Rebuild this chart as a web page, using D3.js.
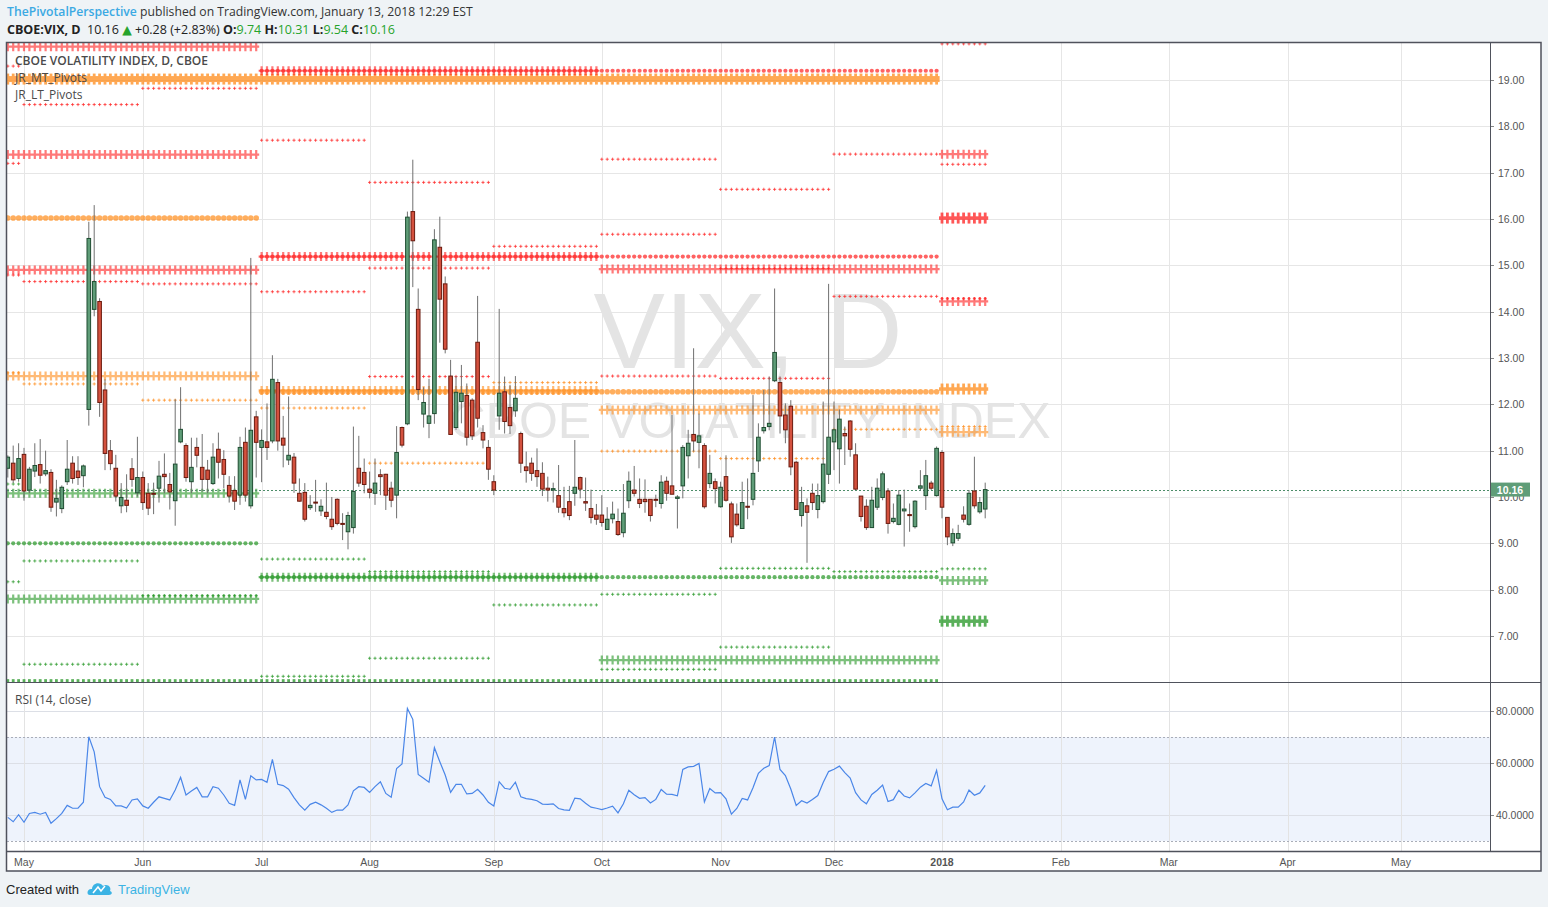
<!DOCTYPE html>
<html>
<head>
<meta charset="utf-8">
<script src="https://cdn.jsdelivr.net/npm/d3@7"></script>
<style>
  body { margin: 0; background: #eff3f6; }
  svg { display: block; }
</style>
</head>
<body>
<svg id="chart" width="1548" height="907"></svg>
<script>
// Bougies journalières VIX [open, high, low, close], une liste par mois
const ohlcApr = [[10.62,10.90,10.42,10.86],[10.73,11.11,10.30,10.37],[10.40,11.16,10.33,10.83]];
const ohlcMay = [[10.92,11.06,9.92,10.13],[10.15,10.65,10.08,10.60],[10.56,11.16,10.43,10.68],[10.70,11.25,10.29,10.47],
  [10.50,11.00,10.45,10.57],[10.53,10.60,9.68,9.78],[9.89,10.37,9.58,9.97],[9.75,10.25,9.65,10.21],[10.33,11.23,10.26,10.60],
  [10.73,10.88,10.29,10.40],[10.56,10.88,10.26,10.42],[10.46,10.70,10.21,10.67],[11.89,15.94,11.54,15.58],[14.05,16.30,13.90,14.65],
  [14.22,14.29,11.73,12.04],[12.31,12.54,10.58,10.94],[11.00,11.23,10.58,10.72],[10.62,10.91,9.90,10.02],[9.81,10.30,9.65,9.99],
  [9.93,10.49,9.67,9.82],[10.61,10.84,10.22,10.38],[10.09,11.30,10.01,10.42]];
const ohlcJun = [[10.42,10.55,9.72,9.88],[10.08,10.30,9.61,9.76],[10.08,10.31,9.63,10.07],[10.19,10.78,9.88,10.45],
  [10.49,10.94,10.08,10.44],[10.27,10.52,9.73,10.11],[9.92,12.11,9.38,10.71],[11.19,12.37,11.16,11.46],[11.11,11.16,10.33,10.42],
  [10.33,11.28,10.08,10.64],[11.07,11.28,10.64,10.90],[10.64,11.36,10.12,10.38],[10.58,10.80,10.08,10.38],[10.29,11.16,10.26,10.86],
  [11.03,11.39,10.40,10.75],[10.81,11.01,10.19,10.49],[10.25,10.45,9.88,10.02],[10.14,10.45,9.72,9.91],[10.04,11.30,9.83,11.07],
  [11.18,11.50,9.90,10.04],[9.81,15.16,9.75,11.44],[11.73,11.86,10.42,11.18]];
const ohlcJul = [[11.07,11.46,10.32,11.22],[11.19,12.02,10.80,11.07],[11.21,13.06,11.16,12.54],[12.47,12.55,11.00,11.21],
  [11.27,11.75,10.64,11.12],[10.80,12.17,10.69,10.90],[10.86,10.95,10.09,10.30],[10.08,10.40,9.90,9.91],[10.10,10.30,9.47,9.52],
  [9.77,10.04,9.72,9.82],[9.89,10.37,9.68,9.88],[9.70,9.95,9.59,9.80],[9.67,10.31,9.52,9.58],[9.52,10.00,9.29,9.36],
  [9.95,9.97,9.39,9.43],[9.43,9.65,9.07,9.42],[9.25,9.68,8.87,9.60],[9.34,11.52,9.21,10.12],[10.62,11.32,10.22,10.30],
  [10.53,10.83,10.08,10.27]];
const ohlcAug = [[10.17,10.55,9.97,10.10],[10.08,10.83,9.83,10.30],[10.48,10.60,10.04,10.44],[10.49,10.50,9.72,10.04],
  [10.19,10.33,9.78,9.93],[10.04,11.53,9.54,10.96],[11.50,11.52,11.07,11.12],[11.58,16.16,11.55,16.04],[16.16,17.28,14.53,15.53],
  [14.05,14.50,12.09,12.32],[11.79,12.37,11.50,12.04],[11.59,12.55,11.27,11.75],[11.80,15.78,11.58,15.55],[15.39,16.05,13.33,14.27],
  [14.60,14.76,13.10,13.19],[12.61,12.96,11.34,11.35],[11.50,12.61,11.45,12.26],[12.06,12.85,11.59,12.24],[12.19,12.45,11.11,11.29],
  [12.09,12.13,11.23,11.32],[13.34,14.34,11.50,11.70],[11.39,11.55,11.05,11.23],[11.07,11.23,10.37,10.60]];
const ohlcSep = [[10.33,10.47,10.04,10.15],[11.75,14.06,11.45,12.24],[12.27,12.60,11.37,11.63],[11.93,12.42,11.36,11.54],
  [11.86,12.61,11.73,12.13],[11.37,11.41,10.52,10.73],[10.65,10.98,10.31,10.57],[10.73,10.85,10.35,10.51],[10.57,11.05,10.22,10.44],
  [10.51,10.75,10.02,10.17],[10.19,10.44,9.90,10.15],[10.15,10.31,9.88,10.18],[10.03,10.69,9.66,9.78],[9.75,10.22,9.56,9.66],
  [9.90,10.24,9.50,9.60],[10.08,11.23,9.81,10.21],[10.42,10.44,9.97,10.17],[9.90,10.42,9.70,9.87],[9.75,10.16,9.43,9.56],
  [9.61,9.85,9.40,9.52]];
const ohlcOct = [[9.61,10.04,9.36,9.45],[9.30,9.78,9.30,9.52],[9.53,9.90,9.43,9.63],[9.47,9.75,9.16,9.19],[9.23,10.28,9.13,9.65],
  [9.92,10.55,9.76,10.34],[10.15,10.67,10.01,10.08],[9.95,10.40,9.76,9.86],[9.95,10.38,9.66,9.90],[9.95,9.95,9.47,9.60],
  [9.95,10.05,9.78,9.93],[9.86,10.47,9.75,10.32],[10.34,10.44,9.92,10.08],[10.24,11.77,10.06,10.06],[9.97,10.04,9.32,10.00],
  [10.24,11.12,9.97,11.07],[10.89,11.45,10.40,11.16],[11.35,13.21,10.98,11.21],[11.18,11.80,10.62,11.32],[11.11,11.16,9.75,9.79],
  [10.29,10.91,10.19,10.51],[10.33,10.40,9.86,10.18]];
const ohlcNov = [[9.79,10.33,9.77,10.21],[10.44,10.90,9.90,9.93],[9.85,9.90,9.01,9.14],[9.63,9.86,9.36,9.40],[9.32,10.33,9.32,9.88],
  [9.80,10.40,9.52,9.78],[9.95,12.20,9.82,10.51],[10.78,11.59,10.54,11.29],[11.43,12.31,11.37,11.50],[11.52,12.60,11.44,11.59],
  [12.51,14.50,12.48,13.12],[12.47,12.60,11.37,11.75],[11.77,12.02,11.16,11.45],[11.96,12.09,10.47,10.65],[10.75,10.78,9.72,9.73],
  [9.60,10.22,9.36,9.88],[9.81,9.97,8.58,9.67],[10.08,10.29,9.72,9.88],[9.73,10.29,9.54,10.03],[9.90,12.06,9.86,10.71],
  [10.49,14.60,10.28,11.29]];
const ohlcDec = [[11.19,12.06,10.58,11.45],[11.04,11.89,10.29,11.68],[11.37,11.52,10.69,11.32],[11.64,11.66,10.87,11.03],
  [10.91,11.16,10.15,10.17],[10.02,10.02,9.47,9.58],[9.80,9.95,9.29,9.34],[9.34,10.22,9.34,9.93],[9.78,10.40,9.72,10.19],
  [9.99,10.55,9.93,10.50],[10.13,10.19,9.21,9.43],[9.47,9.86,9.43,9.54],[9.41,10.15,9.39,10.04],[9.70,10.16,8.93,9.74],
  [9.62,9.86,9.25,9.61],[9.36,9.93,9.32,9.91],[10.19,10.58,10.14,10.24],[10.03,10.80,9.72,10.46],[10.30,10.35,10.15,10.19],
  [10.03,11.09,10.01,11.05]];
const ohlcJan = [[10.96,11.01,9.54,9.78],[9.56,9.56,8.96,9.14],[9.01,9.32,8.94,9.21],[9.11,9.40,9.05,9.21],[9.61,9.80,9.45,9.52],
  [9.41,10.15,9.38,10.08],[10.13,10.87,9.75,9.81],[9.68,10.00,9.64,9.88],[9.74,10.31,9.54,10.16]];

// RSI (14, close), une valeur par bougie
const rsiApr = [39.1,37.4,40.1];
const rsiMay = [37.2,40.6,41.0,40.3,41.0,36.8,38.6,40.6,43.7,42.6,42.6,44.9,70.1,64.3,50.9,46.8,46.0,43.5,43.5,42.7,45.8,46.2];
const rsiJun = [43.5,42.6,44.9,47.0,46.4,45.8,49.6,54.5,47.7,49.2,50.6,47.0,47.0,50.9,50.3,47.7,44.5,43.7,53.5,46.0,55.1,53.5];
const rsiJul = [53.7,52.6,61.4,51.8,51.3,49.9,46.7,43.9,41.9,44.1,44.9,43.9,42.6,41.0,41.9,41.9,43.9,49.3,50.9,50.6];
const rsiAug = [48.7,50.9,52.8,48.3,46.8,57.9,59.6,81.0,76.8,55.6,54.1,52.6,65.9,60.5,55.4,48.7,51.8,51.8,48.1,48.3,49.9,47.7,44.9];
const rsiSep = [43.5,52.8,50.3,49.9,52.6,47.0,46.3,46.0,45.5,44.2,44.1,44.3,42.5,42.0,41.8,46.5,46.2,44.5,43.0,42.6];
const rsiOct = [42.1,42.7,43.4,40.8,44.3,49.5,47.8,46.4,46.7,44.6,46.0,49.8,48.0,47.9,47.4,57.5,58.5,58.7,59.8,45.0,50.2,48.5];
const rsiNov = [48.6,46.2,40.3,42.5,46.4,45.8,50.5,56.0,58.0,59.0,70.0,57.5,55.2,50.0,43.7,45.5,44.6,46.0,47.5,52.5,56.7];
const rsiDec = [57.6,58.8,56.3,54.2,48.6,45.8,44.3,47.9,49.5,51.5,45.2,45.9,49.5,47.3,46.6,48.5,50.7,52.1,51.2,57.2];
const rsiJan = [46.2,42.0,43.0,43.0,45.0,49.6,47.6,48.5,51.4];

// JR_MT_Pivots (mensuels)
const mtPeriods = ['2017-04','2017-05','2017-06','2017-07','2017-08','2017-09','2017-10','2017-11','2017-12','2018-01'];
const mtResistance = [[19.30,17.20,14.79],[18.47,14.65],[18.82,14.60],[17.70,14.43],[16.79,14.94,12.60],[15.41],
  [17.29,15.67,12.61],[16.64,14.93,12.56],[17.40,14.33],[19.78,17.18,14.28]];
const mtPivot = [12.68,12.44,12.09,11.92,10.73,12.47,10.99,10.83,11.46,11.52];
const mtSupport = [[10.28,8.17],[8.62,6.39],[7.87],[8.66,6.13],[8.39,6.52],[7.67],[7.90,6.28],[8.46,6.76],[8.39],[8.45]];

// JR_LT_Pivots (trimestriels, semestriels, annuels)
const ltQuarters = ['2017-Q2','2017-Q3','2017-Q4','2018-Q1'];
const ltQuarterR = [[19.72,17.39,14.90],[19.20,15.19],[14.92],[17.40,14.22]];
const ltQuarterP = [12.61,12.30,11.88,11.40];
const ltQuarterS = [[10.08,7.80],[8.27],[6.48],[8.20]];
const ltHalves = ['2017-H1','2017-H2'];
const ltHalfR = [[],[19.20,15.19]];
const ltHalfP = [16.02,12.27];
const ltHalfS = [[9.00],[8.27]];
const ltYears = ['2017','2018'];
const ltYearR = [[],[16.02]];
const ltYearP = [19.02,12.33];
const ltYearS = [[5.95],[7.32]];

const priceTicks = [7,8,9,10,11,12,13,14,15,16,17,18,19];
const rsiTicks = [40,60,80];
const lastPrice = 10.16;

// Calendrier de bourse (jours fériés US)
const holidays = ['2017-05-29','2017-07-04','2017-09-04','2017-11-23','2017-12-25','2018-01-01'];

const fmtDay = d3.timeFormat('%Y-%m-%d');
const dates = d3.timeDay.range(new Date(2017, 3, 26), new Date(2018, 5, 1))
  .filter(d => d.getDay() !== 0 && d.getDay() !== 6 && !holidays.includes(fmtDay(d)));

const candles = [].concat(ohlcApr, ohlcMay, ohlcJun, ohlcJul, ohlcAug, ohlcSep, ohlcOct, ohlcNov, ohlcDec, ohlcJan);
const rsi = [].concat(rsiApr, rsiMay, rsiJun, rsiJul, rsiAug, rsiSep, rsiOct, rsiNov, rsiDec, rsiJan);
const bars = candles.map((d, k) => ({ k, date: dates[k], o: d[0], h: d[1], l: d[2], c: d[3], rsi: rsi[k] }));

// Géométrie
const paneL = 7, paneR = 1490, mainT = 43, mainB = 682, rsiB = 851, axisR = 1541, frameB = 871;
const x = d3.scaleLinear().domain([0, 258]).range([7.8, 7.8 + 258 * 5.4]);
const y = d3.scaleLinear().domain([7, 19]).range([636, 80]);
const yr = d3.scaleLinear().domain([40, 80]).range([815, 711]);

const svg = d3.select('#chart');
const axisFont = '"Liberation Sans", Arial, sans-serif';
const uiFont = '"Open Sans", "DejaVu Sans", sans-serif';

svg.append('rect').attr('width', 1548).attr('height', 907).attr('fill', '#eff3f6');
svg.append('rect').attr('x', 6.5).attr('y', 42.5).attr('width', axisR - 6.5).attr('height', frameB - 42.5).attr('fill', '#fff');

const defs = svg.append('defs');
defs.append('clipPath').attr('id', 'mainClip').append('rect')
  .attr('x', paneL).attr('y', mainT).attr('width', paneR - paneL).attr('height', mainB - mainT);
defs.append('clipPath').attr('id', 'rsiClip').append('rect')
  .attr('x', paneL).attr('y', mainB).attr('width', paneR - paneL).attr('height', rsiB - mainB);

// Repères des mois
const monthKey = d3.timeFormat('%Y-%m');
const monthTicks = [];
dates.forEach((d, k) => {
  if (k > 0 && monthKey(d) !== monthKey(dates[k - 1])) monthTicks.push({ k, d });
});

// Grille
const grid = svg.append('g').attr('stroke', '#e6e6e6').attr('stroke-width', 1);
priceTicks.forEach(v => grid.append('line').attr('x1', paneL).attr('x2', paneR)
  .attr('y1', Math.round(y(v)) + 0.5).attr('y2', Math.round(y(v)) + 0.5));
monthTicks.forEach(t => grid.append('line').attr('x1', Math.round(x(t.k)) + 0.5).attr('x2', Math.round(x(t.k)) + 0.5)
  .attr('y1', mainT).attr('y2', mainB));

// Filigrane
const wm = svg.append('g').attr('fill', '#e4e4e4').attr('font-family', axisFont).attr('text-anchor', 'middle');
wm.append('text').attr('x', 748).attr('y', 368).attr('font-size', 107).text('VIX, D');
wm.append('text').attr('x', 750).attr('y', 438).attr('font-size', 50).text('CBOE VOLATILITY INDEX');

// Pivots
const pivotColor = { R: '#ff2020', P: '#ff8c1a', S: '#249624' };
const pivotLayer = svg.append('g').attr('clip-path', 'url(#mainClip)');

function periodBars(keyFn, p) {
  return bars.filter(b => keyFn(b.date) === p).map(b => b.k);
}
function levelsOf(r, p, s) {
  return [...r.map(v => ({ v, t: 'R' })), { v: p, t: 'P' }, ...s.map(v => ({ v, t: 'S' }))];
}

function drawMonth(ks, l) {
  const yy = y(l.v);
  pivotLayer.append('path')
    .attr('d', ks.map(k => `M${x(k) - 1.6},${yy}h3.2M${x(k)},${yy - 1.6}v3.2`).join(''))
    .attr('stroke', pivotColor[l.t]).attr('stroke-width', 1).attr('fill', 'none').attr('opacity', 0.7);
}
function drawQuarter(ks, l) {
  const yy = y(l.v);
  const g = pivotLayer.append('g').attr('opacity', 0.6);
  g.append('path')
    .attr('d', `M${x(ks[0]) - 3},${yy}H${x(ks[ks.length - 1]) + 3}` + ks.map(k => `M${x(k)},${yy - 4.5}v9`).join(''))
    .attr('stroke', pivotColor[l.t]).attr('stroke-width', 2.2).attr('fill', 'none');
}
function drawHalf(ks, l) {
  pivotLayer.append('g').attr('opacity', 0.7).attr('fill', pivotColor[l.t])
    .selectAll('circle').data(ks).join('circle')
    .attr('cx', k => x(k)).attr('cy', y(l.v)).attr('r', l.t === 'P' ? 2.8 : 2.1);
}
function drawYear(ks, l) {
  const yy = y(l.v);
  const g = pivotLayer.append('g').attr('opacity', 0.75).attr('fill', pivotColor[l.t]);
  const band = l.t === 'P' && l.v > 18 ? 6 : 3.5;
  g.append('rect').attr('x', x(ks[0]) - 3).attr('width', x(ks[ks.length - 1]) - x(ks[0]) + 6)
    .attr('y', yy - band / 2).attr('height', band);
  g.selectAll('.yb').data(ks).join('rect').attr('class', 'yb')
    .attr('x', k => x(k) - 1.4).attr('width', 2.8).attr('y', yy - 5.5).attr('height', 11);
}

const quarterKey = d => d.getFullYear() + '-Q' + (Math.floor(d.getMonth() / 3) + 1);
const halfKey = d => d.getFullYear() + '-H' + (d.getMonth() < 6 ? 1 : 2);
const yearKey = d => String(d.getFullYear());

ltYears.forEach((p, i) => { const ks = periodBars(yearKey, p); levelsOf(ltYearR[i], ltYearP[i], ltYearS[i]).forEach(l => drawYear(ks, l)); });
ltHalves.forEach((p, i) => { const ks = periodBars(halfKey, p); levelsOf(ltHalfR[i], ltHalfP[i], ltHalfS[i]).forEach(l => drawHalf(ks, l)); });
ltQuarters.forEach((p, i) => { const ks = periodBars(quarterKey, p); levelsOf(ltQuarterR[i], ltQuarterP[i], ltQuarterS[i]).forEach(l => drawQuarter(ks, l)); });
mtPeriods.forEach((p, i) => { const ks = periodBars(monthKey, p); levelsOf(mtResistance[i], mtPivot[i], mtSupport[i]).forEach(l => drawMonth(ks, l)); });

// Ligne du dernier prix
svg.append('line').attr('x1', paneL).attr('x2', paneR)
  .attr('y1', Math.round(y(lastPrice)) + 0.5).attr('y2', Math.round(y(lastPrice)) + 0.5)
  .attr('stroke', '#4d8d69').attr('stroke-dasharray', '2,2').attr('stroke-width', 1);

// Bougies
const candleLayer = svg.append('g').attr('clip-path', 'url(#mainClip)');
candleLayer.selectAll('.wick').data(bars).join('line').attr('class', 'wick')
  .attr('x1', d => x(d.k)).attr('x2', d => x(d.k)).attr('y1', d => y(d.h)).attr('y2', d => y(d.l))
  .attr('stroke', '#707070').attr('stroke-width', 1);
candleLayer.selectAll('.body').data(bars).join('rect').attr('class', 'body')
  .attr('x', d => x(d.k) - 1.8).attr('width', 3.6)
  .attr('y', d => y(Math.max(d.o, d.c)))
  .attr('height', d => Math.max(1, Math.abs(y(d.o) - y(d.c))))
  .attr('fill', d => d.c >= d.o ? '#5f9d78' : '#d4513e')
  .attr('stroke', d => d.c >= d.o ? '#1e4d31' : '#6b1a0e').attr('stroke-width', 1);

// RSI
const rsiLayer = svg.append('g').attr('clip-path', 'url(#rsiClip)');
rsiLayer.append('rect').attr('x', paneL).attr('width', paneR - paneL)
  .attr('y', yr(70)).attr('height', yr(30) - yr(70)).attr('fill', '#eef3fc');
rsiTicks.forEach(v => rsiLayer.append('line').attr('x1', paneL).attr('x2', paneR)
  .attr('y1', Math.round(yr(v)) + 0.5).attr('y2', Math.round(yr(v)) + 0.5).attr('stroke', '#dcdfe6'));
monthTicks.forEach(t => rsiLayer.append('line').attr('x1', Math.round(x(t.k)) + 0.5).attr('x2', Math.round(x(t.k)) + 0.5)
  .attr('y1', mainB).attr('y2', rsiB).attr('stroke', '#e3e3e3'));
[70, 30].forEach(v => rsiLayer.append('line').attr('x1', paneL).attr('x2', paneR)
  .attr('y1', Math.round(yr(v)) + 0.5).attr('y2', Math.round(yr(v)) + 0.5)
  .attr('stroke', '#a9adb8').attr('stroke-dasharray', '2,2'));
rsiLayer.append('path').datum(bars)
  .attr('d', d3.line().x(d => x(d.k)).y(d => yr(d.rsi)))
  .attr('fill', 'none').attr('stroke', '#4a86e8').attr('stroke-width', 1.2);

// Axe des prix (l'étiquette du dernier prix recouvre en partie 10.00, comme sur l'original)
const fmt2 = d3.format('.2f');
const pAxis = svg.append('g').attr('font-family', axisFont).attr('font-size', 10.5).attr('fill', '#555');
priceTicks.forEach(v => {
  pAxis.append('line').attr('x1', paneR).attr('x2', paneR + 4).attr('y1', Math.round(y(v)) + 0.5).attr('y2', Math.round(y(v)) + 0.5).attr('stroke', '#888');
  pAxis.append('text').attr('x', 1498).attr('y', y(v) + 4).text(fmt2(v));
});
const fmt4 = d3.format('.4f');
rsiTicks.forEach(v => {
  pAxis.append('line').attr('x1', paneR).attr('x2', paneR + 4).attr('y1', Math.round(yr(v)) + 0.5).attr('y2', Math.round(yr(v)) + 0.5).attr('stroke', '#888');
  pAxis.append('text').attr('x', 1496).attr('y', yr(v) + 4).text(fmt4(v));
});
svg.append('rect').attr('x', paneR + 1).attr('y', y(lastPrice) - 7).attr('width', 39).attr('height', 14).attr('fill', '#5f9d78');
svg.append('text').attr('x', 1510).attr('y', y(lastPrice) + 4).attr('text-anchor', 'middle')
  .attr('font-family', axisFont).attr('font-size', 10.5).attr('font-weight', 'bold').attr('fill', '#fff').text(fmt2(lastPrice));

// Axe du temps
const tAxis = svg.append('g').attr('font-family', axisFont).attr('font-size', 10.5).attr('fill', '#555').attr('text-anchor', 'middle');
const fmtMon = d3.timeFormat('%b');
monthTicks.forEach(t => {
  const isYear = t.d.getMonth() === 0;
  tAxis.append('text').attr('x', x(t.k)).attr('y', 866)
    .attr('font-weight', isYear ? 'bold' : null)
    .text(isYear ? t.d.getFullYear() : fmtMon(t.d));
});

// Cadres
const frame = svg.append('g').attr('stroke', '#4f525c').attr('fill', 'none');
frame.append('rect').attr('x', 6.5).attr('y', 42.5).attr('width', axisR - 6.5).attr('height', frameB - 42.5).attr('stroke-width', 1.5);
frame.append('line').attr('x1', paneR + 0.5).attr('x2', paneR + 0.5).attr('y1', mainT).attr('y2', rsiB);
frame.append('line').attr('x1', 6.5).attr('x2', axisR).attr('y1', mainB + 0.5).attr('y2', mainB + 0.5);
frame.append('line').attr('x1', 6.5).attr('x2', axisR).attr('y1', rsiB + 0.5).attr('y2', rsiB + 0.5).attr('stroke-width', 1.5);

// Légendes
const leg = svg.append('g').attr('font-family', uiFont).attr('font-size', 12).attr('fill', '#4a4a4a');
leg.append('text').attr('x', 15).attr('y', 65).attr('font-weight', 600).text('CBOE VOLATILITY INDEX, D, CBOE');
leg.append('text').attr('x', 15).attr('y', 82).text('JR_MT_Pivots');
leg.append('text').attr('x', 15).attr('y', 99).text('JR_LT_Pivots');
leg.append('text').attr('x', 15).attr('y', 704).text('RSI (14, close)');

// En-tête
const head = svg.append('g').attr('font-family', uiFont).attr('font-size', 12.2);
const l1 = head.append('text').attr('x', 7).attr('y', 16);
l1.append('tspan').attr('fill', '#3ba9e3').attr('font-weight', 600).text('ThePivotalPerspective');
l1.append('tspan').attr('fill', '#333').text(' published on TradingView.com, January 13, 2018 12:29 EST');
const l2 = head.append('text').attr('x', 7).attr('y', 34).attr('fill', '#222').attr('font-size', 12.5);
const green = '#26a32b';
[['CBOE:VIX, D', '#222', 700], ['  10.16 ', '#222', 400], ['▲', green, 400], [' +0.28 (+2.83%) ', '#222', 400],
 ['O:', '#222', 700], ['9.74', green, 400], [' H:', '#222', 700], ['10.31', green, 400],
 [' L:', '#222', 700], ['9.54', green, 400], [' C:', '#222', 700], ['10.16', green, 400]]
  .forEach(([t, c, w]) => l2.append('tspan').attr('fill', c).attr('font-weight', w).attr('xml:space', 'preserve').text(t));

// Pied de page
const foot = svg.append('g').attr('font-family', axisFont).attr('font-size', 13);
foot.append('text').attr('x', 6).attr('y', 894).attr('fill', '#222').text('Created with');
const logo = foot.append('g').attr('transform', 'translate(88,880)');
logo.append('path').attr('d', 'M2,15 C-2,15 -1,8 4,9 C4,3 12,1 15,6 C19,3 24,7 22,11 C25,12 24,15 21,15 Z').attr('fill', '#3bb3e4');
logo.append('path').attr('d', 'M5,13 L10,7 L13,11 L17,6').attr('stroke', '#fff').attr('stroke-width', 1.5).attr('fill', 'none');
foot.append('text').attr('x', 118).attr('y', 894).attr('fill', '#3bb3e4').text('TradingView');
</script>
</body>
</html>
